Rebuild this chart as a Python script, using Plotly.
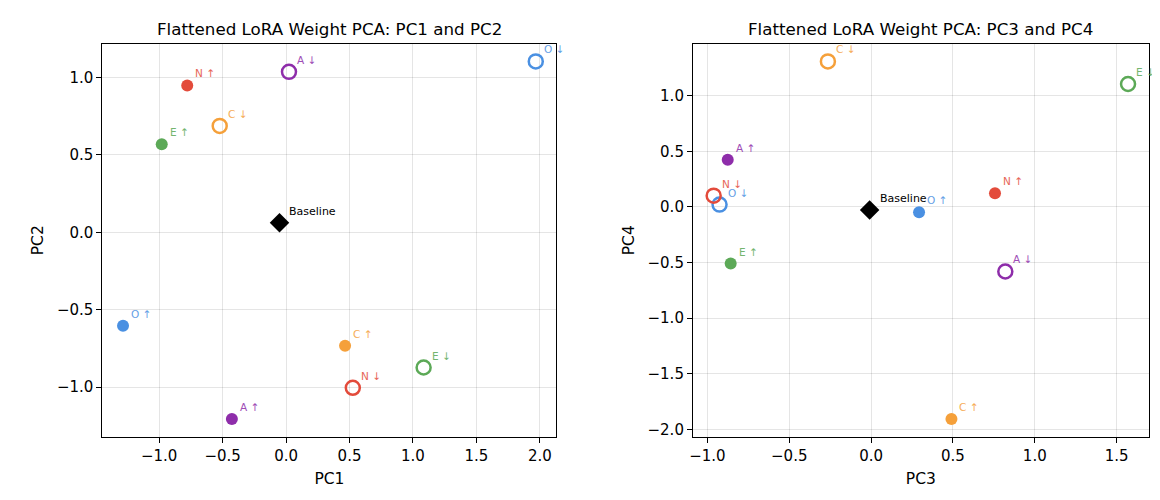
import plotly.graph_objects as go
from plotly.subplots import make_subplots

# PCA coordinates
labels = ["O ↑", "O ↓", "C ↑", "C ↓", "E ↑", "E ↓", "A ↑", "A ↓", "N ↑", "N ↓"]
traits = ["O", "O", "C", "C", "E", "E", "A", "A", "N", "N"]
filled = [True, False, True, False, True, False, True, False, True, False]

pc1 = [-1.285, 1.968, 0.465, -0.523, -0.980, 1.084, -0.427, 0.023, -0.779, 0.526]
pc2 = [-0.603, 1.103, -0.732, 0.687, 0.569, -0.873, -1.206, 1.036, 0.948, -1.004]
pc3 = [0.293, -0.926, 0.491, -0.264, -0.858, 1.570, -0.876, 0.820, 0.757, -0.962]
pc4 = [-0.048, 0.021, -1.906, 1.307, -0.509, 1.104, 0.424, -0.580, 0.122, 0.101]

baseline_12 = [-0.052, 0.062]
baseline_34 = [-0.009, -0.027]

trait_colors = {
    "O": "#4A90E2",
    "C": "#F5A03A",
    "E": "#5CA957",
    "A": "#8E2DAA",
    "N": "#E34B3B",
}

FONT = "DejaVu Sans"


def padded(vals, frac=0.05):
    lo, hi = min(vals), max(vals)
    pad = (hi - lo) * frac
    return [lo - pad, hi + pad]


fig = make_subplots(rows=1, cols=2)

panels = [
    (1, pc1, pc2, baseline_12, "Flattened LoRA Weight PCA: PC1 and PC2", "PC1", "PC2"),
    (2, pc3, pc4, baseline_34, "Flattened LoRA Weight PCA: PC3 and PC4", "PC3", "PC4"),
]

for col, xs, ys, base, title, xlab, ylab in panels:
    xref = "x" if col == 1 else "x2"
    yref = "y" if col == 1 else "y2"

    # zero lines
    fig.add_hline(y=0, line=dict(color="rgba(128,128,128,0.7)", width=1), row=1, col=col, layer="below")
    fig.add_vline(x=0, line=dict(color="rgba(128,128,128,0.7)", width=1), row=1, col=col, layer="below")

    for i, lab in enumerate(labels):
        c = trait_colors[traits[i]]
        if filled[i]:
            marker = dict(size=12, color=c, line=dict(width=0))
        else:
            marker = dict(size=14, symbol="circle-open", color=c, line=dict(width=2.5))
        fig.add_trace(go.Scatter(x=[xs[i]], y=[ys[i]], mode="markers", marker=marker,
                                 showlegend=False, hoverinfo="text", text=lab),
                      row=1, col=col)
        fig.add_annotation(x=xs[i], y=ys[i], xref=xref, yref=yref, text=lab,
                           showarrow=False, xanchor="left", yanchor="middle",
                           xshift=7, yshift=12, opacity=0.85, borderpad=0,
                           font=dict(family=FONT, size=10.5, color=c))

    fig.add_trace(go.Scatter(x=[base[0]], y=[base[1]], mode="markers",
                             marker=dict(symbol="diamond", size=15, color="black"),
                             showlegend=False, hoverinfo="text", text="Baseline"),
                  row=1, col=col)
    fig.add_annotation(x=base[0], y=base[1], xref=xref, yref=yref, text="Baseline",
                       showarrow=False, xanchor="left", yanchor="middle", borderpad=0,
                       xshift=9, yshift=11, font=dict(family=FONT, size=11, color="black"))

    axis_common = dict(showline=True, mirror=True, linecolor="black", linewidth=1,
                       ticks="outside", ticklen=5, tickcolor="black",
                       showgrid=True, gridcolor="rgba(0,0,0,0.1)", gridwidth=1,
                       zeroline=False, dtick=0.5, tickformat=".1f",
                       tickfont=dict(family=FONT, size=15, color="black"))
    fig.update_xaxes(range=padded(xs + [base[0]]), title=dict(text=xlab, standoff=9,
                     font=dict(family=FONT, size=15.5, color="black")),
                     row=1, col=col, **axis_common)
    fig.update_yaxes(range=padded(ys + [base[1]]), title=dict(text=ylab, standoff=9,
                     font=dict(family=FONT, size=15.5, color="black")),
                     row=1, col=col, **axis_common)

fig.update_layout(
    width=1160, height=500,
    margin=dict(l=0, r=0, t=0, b=0),
    plot_bgcolor="white", paper_bgcolor="white",
    font=dict(family=FONT, color="black"),
    xaxis=dict(domain=[90.7 / 1160, 546.3 / 1160]),
    xaxis2=dict(domain=[683.3 / 1160, 1140.7 / 1160]),
    yaxis=dict(domain=[1 - 430.7 / 500, 1 - 35.7 / 500]),
    yaxis2=dict(domain=[1 - 430.7 / 500, 1 - 35.7 / 500]),
)

for col, title in [(1, panels[0][4]), (2, panels[1][4])]:
    dom = fig.layout.xaxis.domain if col == 1 else fig.layout.xaxis2.domain
    fig.add_annotation(x=(dom[0] + dom[1]) / 2, y=1 - 21 / 500, xref="paper", yref="paper",
                       text=title, showarrow=False, xanchor="center", yanchor="middle",
                       font=dict(family=FONT, size=16.7, color="black"))

fig.write_html("out.html")
